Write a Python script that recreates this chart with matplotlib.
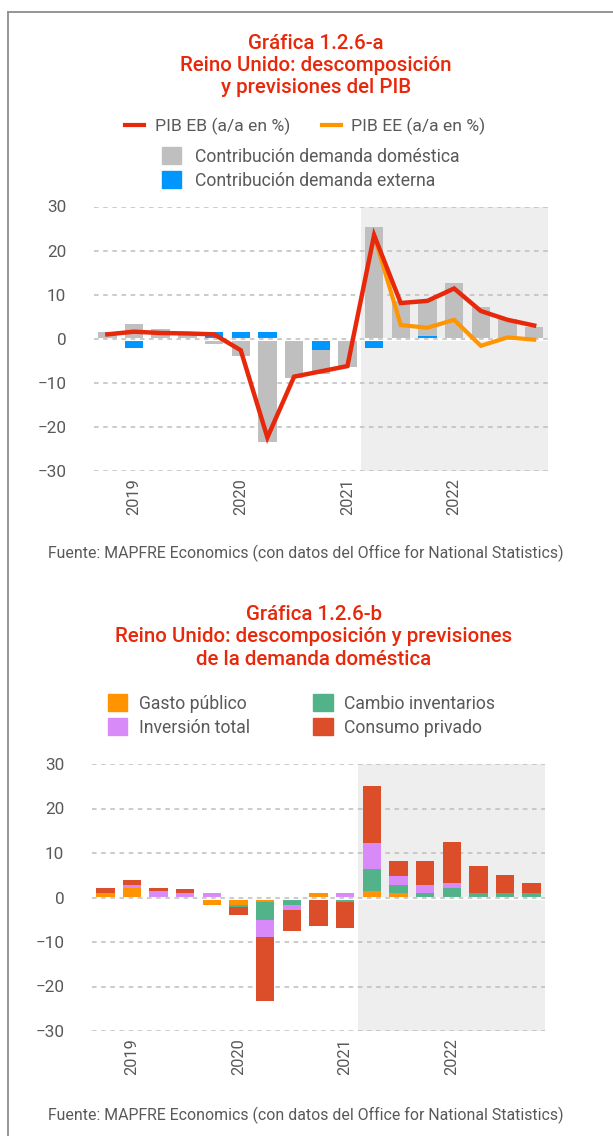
import matplotlib
matplotlib.use('Agg')
import matplotlib.pyplot as plt
from matplotlib.lines import Line2D
from matplotlib.patches import Patch
import numpy as np

plt.rcParams['font.family'] = ['Roboto', 'DejaVu Sans']

# quarters 2018T4 .. 2022T4
quarters = ['2018T4', '2019T1', '2019T2', '2019T3', '2019T4', '2020T1', '2020T2', '2020T3',
            '2020T4', '2021T1', '2021T2', '2021T3', '2021T4', '2022T1', '2022T2', '2022T3', '2022T4']
year_ticks = ['2019T1', '2020T1', '2021T1', '2022T1']
year_labels = ['2019', '2020', '2021', '2022']
shade_from = '2021T2'

# Grafica a
pib_eb = [1.0, 1.6, 1.3, 1.2, 1.0, -2.6, -22.4, -8.6, -7.4, -6.2, 23.5, 8.1, 8.6, 11.4, 6.3, 4.3, 3.0]
pib_ee = [None] * 10 + [23.5, 3.1, 2.5, 4.3, -1.6, 0.3, -0.2]
dem_domestica = [1.6, 3.4, 2.1, 1.4, -1.1, -4.0, -23.4, -8.3, -5.5, -6.3, 25.4, 8.6, 8.1, 12.6, 7.1, 4.5, 2.7]
dem_externa = [-0.6, -2.2, -0.6, -0.6, 1.6, 1.6, 1.6, -0.6, -2.6, 0.0, -2.2, 0.0, 0.7, -0.6, 0.0, 0.0, 0.0]

# Grafica b
gasto_publico = [1.0, 2.1, 0.0, 0.0, -1.6, -1.6, -1.0, 0.0, 1.0, 0.0, 1.4, 0.9, 0.0, 0.0, 0.0, 0.0, 0.0]
cambio_inv = [0.0, 0.0, 0.0, 0.0, 0.0, -0.5, -4.0, -1.7, 0.0, -1.0, 5.0, 1.8, 0.9, 2.1, 1.0, 0.9, 0.9]
inversion = [0.0, 0.7, 1.4, 0.9, 0.9, 0.0, -3.8, -1.1, 0.0, 0.9, 5.8, 2.2, 1.9, 1.1, 0.0, 0.0, 0.0]
consumo = [1.1, 1.1, 0.7, 1.1, 0.0, -1.8, -14.4, -4.8, -6.4, -5.9, 12.8, 3.2, 5.4, 9.2, 6.0, 4.1, 2.3]

RED_T = '#E8280A'
GRAY_T = '#595959'
W, H = 613, 1136

fig = plt.figure(figsize=(W / 100, H / 100), dpi=100)


def ax_rect(l, r, t, b):
    return [l / W, 1 - b / H, (r - l) / W, (b - t) / H]


def stacked(ax, x, series, colors, width):
    pos = np.zeros(len(x))
    neg = np.zeros(len(x))
    for vals, c in zip(series, colors):
        v = np.array(vals, dtype=float)
        base = np.where(v >= 0, pos, neg)
        ax.bar(x, v, width, bottom=base, color=c, zorder=2, linewidth=0)
        pos = pos + np.where(v > 0, v, 0)
        neg = neg + np.where(v < 0, v, 0)


def style(ax):
    x = np.arange(len(quarters))
    ax.set_xlim(-0.5, len(quarters) - 0.5)
    ax.set_ylim(-30, 30)
    s = quarters.index(shade_from) - 0.5
    ax.axvspan(s, len(quarters) - 0.5, color='#EEEEEE', zorder=0, linewidth=0)
    for yv in range(-30, 31, 10):
        ax.axhline(yv, color='#BDBDBD', lw=1.1, ls=(0, (3, 3)), zorder=1)
    ax.axhline(0, color='white', lw=2.2, zorder=3)
    ax.axhline(0, color='#BDBDBD', lw=1.1, ls=(0, (3, 3)), zorder=3.1)
    ax.set_yticks(range(-30, 31, 10))
    ax.set_xticks([quarters.index(q) for q in year_ticks])
    ax.set_xticklabels(year_labels, rotation=90)
    ax.tick_params(length=0, labelsize=12.3, colors=GRAY_T)
    ax.tick_params(axis='y', pad=20)
    ax.tick_params(axis='x', pad=5, labelsize=11.8)
    for sp in ax.spines.values():
        sp.set_visible(False)
    return x


# ---- chart a ----
ax1 = fig.add_axes(ax_rect(94, 547.5, 206.5, 471))
x = style(ax1)
stacked(ax1, x, [dem_externa, dem_domestica], ['#0096FF', '#BFBFBF'], 0.69)
ee = np.array([np.nan if v is None else v for v in pib_ee])
ax1.plot(x, ee, color='#FF9500', lw=3.0, zorder=4, solid_joinstyle='miter')
ax1.plot(x, pib_eb, color=RED_T, lw=3.2, zorder=5, solid_joinstyle='miter')

fig.text(316 / W, 1 - 65.5 / H, 'Gráfica 1.2.6-a\nReino Unido: descomposición\ny previsiones del PIB',
         ha='center', va='center', color=RED_T, fontsize=14.8, fontweight='medium', linespacing=1.22)

h1 = [Line2D([], [], color=RED_T, lw=3), Line2D([], [], color='#FF9500', lw=3)]
fig.legend(h1, ['PIB EB (a/a en %)', 'PIB EE (a/a en %)'], loc='center left',
           bbox_to_anchor=(125 / W, 1 - 126 / H), ncol=2, frameon=False, fontsize=12.6,
           labelcolor=GRAY_T, handlelength=1.1, handletextpad=0.6, columnspacing=1.8,
           borderpad=0, borderaxespad=0)
h2 = [Patch(color='#BFBFBF'), Patch(color='#0096FF')]
fig.legend(h2, ['Contribución demanda doméstica', 'Contribución demanda externa'], loc='center left',
           bbox_to_anchor=(162 / W, 1 - 168.5 / H), ncol=1, frameon=False, fontsize=12.7,
           labelcolor=GRAY_T, handlelength=1.1, handleheight=1.1, handletextpad=0.75,
           labelspacing=0.33, borderpad=0, borderaxespad=0)

fig.text(306 / W, 1 - 553 / H, 'Fuente: MAPFRE Economics (con datos del Office for National Statistics)',
         ha='center', va='center', color=GRAY_T, fontsize=11.4)

# ---- chart b ----
ax2 = fig.add_axes(ax_rect(92, 545, 764, 1031))
x = style(ax2)
stacked(ax2, x, [gasto_publico, cambio_inv, inversion, consumo],
        ['#FF9300', '#52B38B', '#D98AF9', '#DC4E2A'], 0.69)

fig.text(314 / W, 1 - 637 / H, 'Gráfica 1.2.6-b\nReino Unido: descomposición y previsiones\nde la demanda doméstica',
         ha='center', va='center', color=RED_T, fontsize=14.8, fontweight='medium', linespacing=1.22)

h3 = [Patch(color='#FF9300'), Patch(color='#D98AF9'), Patch(color='#52B38B'), Patch(color='#DC4E2A')]
fig.legend(h3, ['Gasto público', 'Inversión total', 'Cambio inventarios', 'Consumo privado'],
           loc='center left', bbox_to_anchor=(108 / W, 1 - 715.5 / H), ncol=2, frameon=False,
           fontsize=12.7, labelcolor=GRAY_T, handlelength=1.1, handleheight=1.1, handletextpad=0.65,
           labelspacing=0.33, columnspacing=3.6, borderpad=0, borderaxespad=0)

fig.text(306 / W, 1 - 1115 / H, 'Fuente: MAPFRE Economics (con datos del Office for National Statistics)',
         ha='center', va='center', color=GRAY_T, fontsize=11.4)

# outer frame
fig.add_artist(Line2D([8 / W, 8 / W], [0, 1 - 12 / H], color='#8C8C8C', lw=1.3))
fig.add_artist(Line2D([8 / W, 1], [1 - 12 / H, 1 - 12 / H], color='#8C8C8C', lw=1.3))

fig.savefig('out.png', dpi=100)
